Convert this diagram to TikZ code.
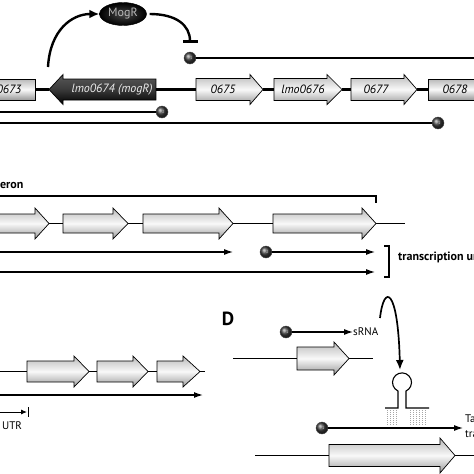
\documentclass[tikz,border=0pt]{standalone}
\usepackage{fontspec}
\setsansfont{PT Sans}
\usetikzlibrary{arrows.meta,shapes.geometric}
\tikzset{
 genefill/.style={draw=black,line width=0.7pt,top color=gray!55,bottom color=gray!80,middle color=gray!5},
 darkfill/.style={draw=black,line width=0.7pt,top color=gray!70!black,bottom color=black,middle color=gray!45!black},
 genetext/.style={font=\sffamily\itshape\fontsize{12}{14}\selectfont,inner sep=0pt},
 prom/.style={circle,minimum size=12pt,inner sep=0pt,draw=gray!60!black,line width=0.4pt,shading=ball,ball color=gray!45!black,font=\sffamily\fontsize{4.5}{5}\selectfont,text=gray!55},
 backbone/.style={line width=2.2pt},
 thinbb/.style={line width=1.3pt},
 tx/.style={line width=1.1pt},
 txa/.style={line width=1.1pt,-{Latex[length=9pt,width=6pt]}},
 boldlab/.style={font=\sffamily\bfseries\fontsize{12}{14}\selectfont,inner sep=0pt},
 smalllab/.style={font=\sffamily\fontsize{11}{15}\selectfont,inner sep=0pt},
}
% x0, xbase, xtip, ycentre, body half height, head half height, style
\newcommand\geneR[7]{\shadedraw[#7] (#1,#4-#5) -- (#2,#4-#5) -- (#2,#4-#6) -- (#3,#4) -- (#2,#4+#6) -- (#2,#4+#5) -- (#1,#4+#5) -- cycle;}
\begin{document}
\begin{tikzpicture}[x=1pt,y=-1pt]
\useasboundingbox (0,0) rectangle (474,474);
% ================= Panel A =================
\draw[backbone] (35,89.5) coordinate (a1) -- (49,89.5) coordinate (a2);
\draw[backbone] (156,89.5) coordinate (a3) -- (196,89.5) coordinate (a4);
\draw[backbone] (263,89.5) coordinate (a5) -- (274,89.5) coordinate (a6);
\draw[backbone] (342,89.5) coordinate (a7) -- (351,89.5) coordinate (a8);
\draw[backbone] (417,89.5) coordinate (a9) -- (428,89.5) coordinate (a10);
\shadedraw[genefill] (-5,79) rectangle (35,100);
\geneR{156}{63}{49}{89.5}{10.5}{15}{darkfill}
\geneR{196}{250}{263}{89.5}{11}{15}{genefill}
\geneR{274}{327}{342}{89.5}{11}{15}{genefill}
\geneR{351}{404}{417}{89.5}{11}{15}{genefill}
\shadedraw[genefill] (428,79) rectangle (480,100);
\node[genetext] (g673) at (9,89.5) {0673};
\node[genetext,text=gray!15] (g674) at (112,89.5) {lmo0674 (mogR)};
\node[genetext] (g675) at (223,89.5) {0675};
\node[genetext] (g676) at (303,89.5) {lmo0676};
\node[genetext] (g677) at (376,89.5) {0677};
\node[genetext] (g678) at (455,89.5) {0678};
% MogR protein
\node[ellipse,minimum width=47pt,minimum height=23pt,inner sep=0pt,draw=black,inner color=gray!55!black,outer color=black,
      font=\sffamily\fontsize{12}{13}\selectfont,text=gray!55] (mogr) at (123,14) {MogR};
\draw[line width=2.4pt,-{Latex[length=10pt,width=9pt]}] (48,67) .. controls (50,30) and (72,14) .. (mogr.west);
\node[prom] (p1a) at (190,58) {P1};
\draw[line width=2.4pt,-{Bar[width=15pt,line width=2.4pt]}] ([xshift=3pt]mogr.east) .. controls (176,14) and (190,25) .. ([yshift=9pt]p1a.north);
\draw[line width=1.8pt] (p1a.east) -- (474,58) coordinate (ea1);
\node[prom] (p2a) at (162,112) {P2};
\draw[line width=1.8pt] (p2a.west) -- (0,112) coordinate (ea2);
\node[prom] (p3a) at (438,123) {P1};
\draw[line width=1.8pt] (p3a.west) -- (0,123) coordinate (ea3);
% ================= Panel B =================
\node[boldlab,anchor=base west] (oplab) at (-13,188) {operon};
\draw[tx] (0,196) coordinate (ob1) -- (376,196) -- (376,203) coordinate (ob2);
\draw[thinbb] (49,223.5) coordinate (b1) -- (63,223.5) coordinate (b2);
\draw[thinbb] (128,223.5) coordinate (b3) -- (143,223.5) coordinate (b4);
\draw[thinbb] (233,223.5) coordinate (b5) -- (273,223.5) coordinate (b6);
\draw[thinbb] (376,223.5) coordinate (b7) -- (405,223.5) coordinate (b8);
\geneR{-5}{35}{49}{223.5}{9.5}{15.5}{genefill}
\geneR{63}{113}{128}{223.5}{9.5}{15.5}{genefill}
\geneR{143}{219}{233}{223.5}{9.5}{15.5}{genefill}
\geneR{273}{362}{376}{223.5}{9.5}{15.5}{genefill}
\draw[txa] (0,252) coordinate (tb1) -- (233,252) coordinate (tb2);
\node[prom] (p1b) at (266,252) {P2};
\draw[txa] (p1b.east) -- (375,252) coordinate (tb3);
\draw[txa] (0,272) coordinate (tb4) -- (375,272) coordinate (tb5);
\draw[tx] (384,246) coordinate (br1) -- (389,246) -- (389,277) -- (384,277) coordinate (br2);
\node[boldlab,anchor=west] (tulab) at (398,257) {transcription units};
% ================= Panel C =================
\draw[thinbb] (0,371.5) coordinate (c0) -- (27,371.5) coordinate (c1);
\draw[thinbb] (74,371.5) coordinate (c2) -- (97,371.5) coordinate (c3);
\draw[thinbb] (148,371.5) coordinate (c4) -- (157,371.5) coordinate (c5);
\draw[thinbb] (200,371.5) coordinate (c6) -- (205,371.5) coordinate (c7);
\geneR{27}{74}{89}{371.5}{10.5}{15.5}{genefill}
\geneR{97}{133}{148}{371.5}{10.5}{15.5}{genefill}
\geneR{157}{183}{200}{371.5}{10.5}{15.5}{genefill}
\draw[line width=1.3pt,-{Latex[length=9pt,width=6pt]}] (0,395) coordinate (tc1) -- (203,395) coordinate (tc2);
\draw[line width=0.9pt,-{Latex[length=6pt,width=5pt]}] (0,412) coordinate (tc3) -- (27,412) coordinate (tc4);
\draw[line width=0.9pt] (28,407) coordinate (tc5) -- (28,417) coordinate (tc6);
\node[smalllab,anchor=west] (utr) at (2,426) {UTR};
% ================= Panel D =================
\node[font=\sffamily\bfseries\fontsize{19}{20}\selectfont,inner sep=0pt] (dlab) at (228,319) {D};
\draw[thinbb] (233,358.5) coordinate (d1) -- (373,358.5) coordinate (d2);
\geneR{297}{334}{349}{358.5}{11.5}{16.5}{genefill}
\node[prom] (p1d) at (286,332) {P1};
\node[smalllab,anchor=west] (srna) at (353,332) {sRNA};
\draw[txa] (p1d.east) -- (srna.west);
\draw[line width=1.7pt,-{Latex[length=10pt,width=8pt]}] (380,318) coordinate (cu1) .. controls (384,283) and (398,288) .. (400,370) coordinate (cu2);
% hairpin
\draw[line width=1.1pt] (385,408) coordinate (h1) -- (398,408) -- (398,391) arc[start angle=115,end angle=425,radius=9.5] -- (406,408) -- (429,408) coordinate (h2);
\foreach \xx in {387,390,393,396,410,413,416,419,422,425}
  \draw[gray!70,line width=0.5pt,dash pattern=on 1pt off 1pt] (\xx,410) -- (\xx,426);
\node[prom] (p2d) at (322,428) {P1};
\draw[txa] (p2d.east) -- (463,428) coordinate (td1);
\node[smalllab,anchor=north west,align=left] (tlab) at (465,415) {Target\\transcript};
\draw[thinbb] (255,455.5) coordinate (d3) -- (474,455.5) coordinate (d4);
\geneR{329}{440}{455}{455.5}{11}{17.5}{genefill}
\end{tikzpicture}
\end{document}
